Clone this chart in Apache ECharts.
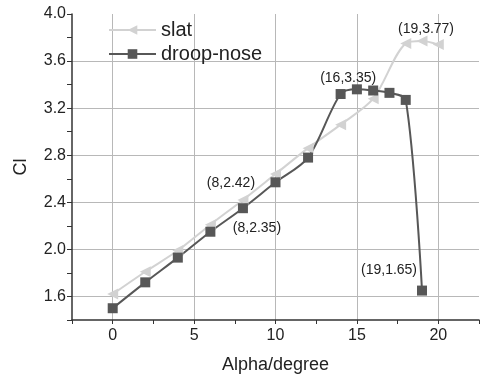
<!DOCTYPE html>
<html>
<head>
<meta charset="utf-8">
<script src="https://cdn.jsdelivr.net/npm/echarts@6/dist/echarts.min.js"></script>
<style>
  html, body { margin: 0; padding: 0; background: #fff; }
  #chart { width: 482px; height: 379px; }
</style>
</head>
<body>
<div id="chart"></div>
<script>
// data
var slatAlpha = [0, 2, 4, 6, 8, 10, 12, 14, 16, 18, 19, 20]
var slatCl = [1.62, 1.81, 1.99, 2.21, 2.42, 2.64, 2.86, 3.06, 3.28, 3.75, 3.77, 3.74]
var droopAlpha = [0, 2, 4, 6, 8, 10, 12, 14, 15, 16, 17, 18, 19]
var droopCl = [1.50, 1.72, 1.93, 2.15, 2.35, 2.57, 2.78, 3.32, 3.36, 3.35, 3.33, 3.27, 1.65]
// annotated points: series, alpha, text, offset
var notes = [
    {s: 'slat', x: 8, text: '(8,2.42)', off: [-12, -17]},
    {s: 'slat', x: 19, text: '(19,3.77)', off: [4, -12]},
    {s: 'droop', x: 8, text: '(8,2.35)', off: [14, 20]},
    {s: 'droop', x: 16, text: '(16,3.35)', off: [-25, -12]},
    {s: 'droop', x: 19, text: '(19,1.65)', off: [-33, -20]}
]

var slatColor = '#d2d2d2'
var droopColor = '#575757'
var gridColor = '#b8b8b8'
var font = 'Liberation Sans, Arial, sans-serif'

function build(name, xs, ys) {
    return xs.map(function(x, i) {
        var item = {value: [x, ys[i]]}
        notes.forEach(function(n) {
            if (n.s === name && n.x === x) {
                item.label = {
                    show: true,
                    formatter: n.text,
                    position: 'inside',
                    offset: n.off,
                    color: '#222',
                    fontSize: 14,
                    fontFamily: font
                }
            }
        })
        return item
    })
}

var chart = echarts.init(document.getElementById('chart'))
var option = {
    animation: false,
    backgroundColor: '#fff',
    grid: {left: 72, right: -2, top: 14, bottom: 59, containLabel: false},
    legend: {
        orient: 'vertical',
        left: 108,
        top: 20,
        padding: 0,
        itemWidth: 47,
        itemHeight: 12,
        itemGap: 4,
        textStyle: {fontSize: 20, fontFamily: font, color: '#222'},
        data: ['slat', 'droop-nose']
    },
    xAxis: {
        type: 'value',
        min: -2.5,
        max: 22.5,
        interval: 2.5,
        name: 'Alpha/degree',
        nameLocation: 'middle',
        nameGap: 36,
        nameTextStyle: {fontSize: 18, fontFamily: font, color: '#222'},
        axisLine: {show: true, onZero: false, lineStyle: {color: '#333', width: 1.5}},
        axisTick: {show: true, length: 4, lineStyle: {color: '#333'}},
        axisLabel: {
            fontSize: 16, fontFamily: font, color: '#222', margin: 8,
            formatter: function(v) { return v % 5 === 0 ? String(v) : '' }
        },
        splitLine: {
            show: true, showMinLine: false, showMaxLine: false,
            lineStyle: {color: [gridColor, 'rgba(0,0,0,0)'], width: 1}
        }
    },
    yAxis: {
        type: 'value',
        min: 1.4,
        max: 4.0,
        interval: 0.2,
        name: 'Cl',
        nameLocation: 'middle',
        nameGap: 42,
        nameTextStyle: {fontSize: 18, fontFamily: font, color: '#222'},
        axisLine: {show: true, onZero: false, lineStyle: {color: '#333', width: 1.5}},
        axisTick: {show: true, length: 5, lineStyle: {color: '#333'}},
        axisLabel: {
            fontSize: 16, fontFamily: font, color: '#222', margin: 6,
            formatter: function(v) { return Math.round(v * 10) % 4 === 0 ? v.toFixed(1) : '' }
        },
        splitLine: {
            show: true, showMinLine: false, showMaxLine: false,
            lineStyle: {color: [gridColor, 'rgba(0,0,0,0)'], width: 1}
        }
    },
    series: [{
        name: 'slat',
        type: 'line',
        smooth: 0.3,
        symbol: 'triangle',
        symbolRotate: 90,
        symbolSize: 11,
        lineStyle: {color: slatColor, width: 2},
        itemStyle: {color: slatColor},
        data: build('slat', slatAlpha, slatCl)
    }, {
        name: 'droop-nose',
        type: 'line',
        smooth: 0.3,
        symbol: 'rect',
        symbolSize: 10,
        lineStyle: {color: droopColor, width: 2},
        itemStyle: {color: droopColor},
        data: build('droop', droopAlpha, droopCl)
    }]
}
chart.setOption(option)
</script>
</body>
</html>
